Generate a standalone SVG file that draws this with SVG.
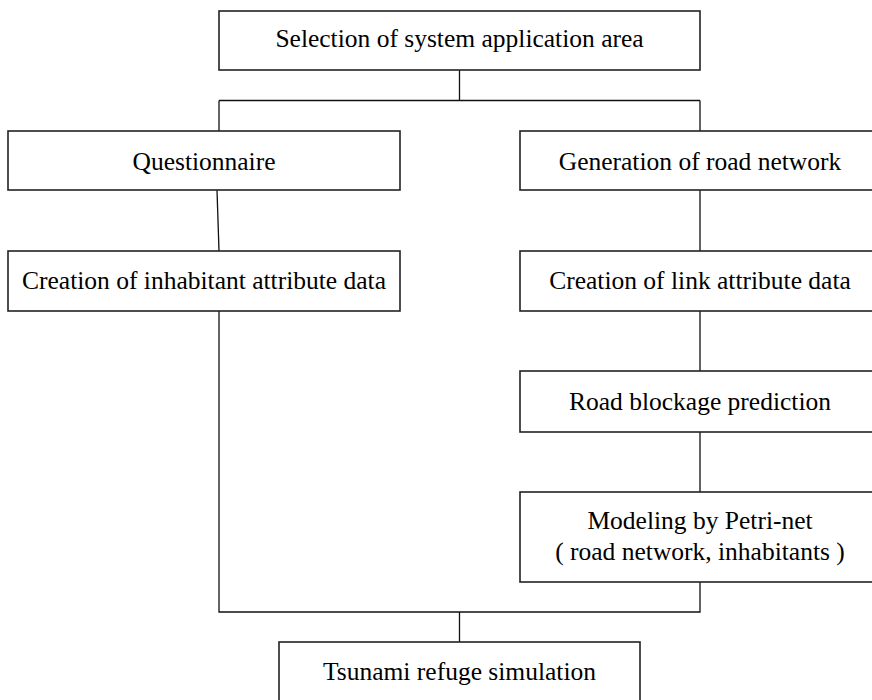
<svg xmlns="http://www.w3.org/2000/svg" width="872" height="700" viewBox="0 0 872 700">
<style>
.box{fill:#fff;stroke:#222;stroke-width:1.6}
.t{font-family:"Liberation Serif","Times New Roman",serif;font-size:25.5px;fill:#000;text-anchor:middle}
.c{fill:none;stroke:#111;stroke-width:1.3}
</style>
<rect width="872" height="700" fill="#fff"/>
<g id="connectors">
<path class="c" d="M459.5,70 V100.5 M219,100.5 H700 M219,100.5 V131 M700,100.5 V131"/>
<path class="c" d="M217,190 L219,251"/>
<path class="c" d="M700,190 V251 M700,311 V371 M700,432 V492"/>
<path class="c" d="M219,311 V612 H700 V582 M459.5,612 V642"/>
</g>
<g id="n1"><rect class="box" x="219" y="11" width="481" height="59"/><text class="t" x="459.5" y="47">Selection of system application area</text></g>
<g id="n2"><rect class="box" x="8" y="131" width="392" height="59"/><text class="t" x="204" y="170">Questionnaire</text></g>
<g id="n3"><rect class="box" x="520" y="131" width="370" height="59"/><text class="t" x="700" y="170">Generation of road network</text></g>
<g id="n4"><rect class="box" x="8" y="251" width="392" height="60"/><text class="t" x="204" y="289">Creation of inhabitant attribute data</text></g>
<g id="n5"><rect class="box" x="520" y="251" width="370" height="60"/><text class="t" x="700" y="289">Creation of link attribute data</text></g>
<g id="n6"><rect class="box" x="520" y="371" width="370" height="61"/><text class="t" x="700" y="409.5">Road blockage prediction</text></g>
<g id="n7"><rect class="box" x="520" y="492" width="370" height="90"/><text class="t" x="700" y="528.5">Modeling by Petri-net</text><text class="t" x="700" y="559.5">( road network, inhabitants )</text></g>
<g id="n8"><rect class="box" x="279" y="642" width="361" height="70"/><text class="t" x="459.5" y="680">Tsunami refuge simulation</text></g>
</svg>
